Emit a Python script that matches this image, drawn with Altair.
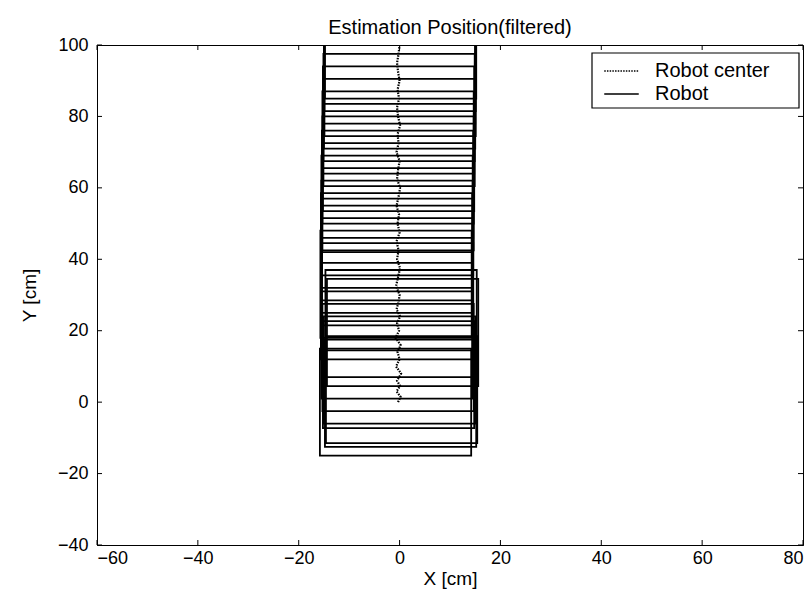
import altair as alt
import pandas as pd

# Robot pose estimates (filtered): centre of each robot footprint, cm
robot_cy = [0, 2.5, 3.5, 7.7, 9, 12.5, 16, 19.5, 22, 27, 29.5, 33, 36.5, 40, 43.5,
            47, 50.5, 54, 57.5, 61, 65, 68.5, 72, 75.5, 79, 82.5, 86, 89.5, 93, 96.5, 100]
robot_cx = [-0.8, 0.2, 0.4, -0.2, 0.0, -0.3, -0.5, 0.6, 0.3, -0.6, -0.4, -0.7, -0.5, -0.4, -0.6,
            -0.5, -0.4, -0.5, -0.3, -0.4, -0.3, -0.2, -0.3, -0.1, -0.2, -0.1, 0.0, 0.1, 0.0, 0.1, 0.2]
ROBOT_SIZE = 30  # square footprint, cm

# Trail of the robot centre
center_y = [0, 1.5, 3, 4.5, 6, 8, 10, 12, 14, 16, 18, 20, 22, 24, 26, 28, 30,
            32.5, 35, 37.5, 40, 42.5, 45, 47.5, 50, 52.5, 55, 57.5, 60, 62.5, 65,
            67.5, 70, 72.5, 75, 77.5, 80, 82.5, 85, 87.5, 90, 92.5, 95, 97.5, 100]
center_x = [-0.3, 0.2, -0.6, 0.1, -0.5, 0.3, -0.7, 0.0, -0.4, 0.2, -0.8, -0.1, -0.5, 0.1, -0.6,
            -0.2, 0.0, -0.7, -0.3, 0.1, -0.5, -0.2, -0.6, 0.0, -0.4, -0.1, -0.6, -0.2, 0.1, -0.5,
            -0.3, 0.0, -0.6, -0.2, -0.4, 0.1, -0.3, -0.5, -0.1, -0.4, 0.0, -0.3, -0.5, -0.2, 0.0]

x_ticks = [-60, -40, -20, 0, 20, 40, 60, 80]
y_ticks = [-40, -20, 0, 20, 40, 60, 80, 100]

FONT = "Liberation Sans"
W, H = 706, 500
half = ROBOT_SIZE / 2

robots = pd.DataFrame({"cx": robot_cx, "cy": robot_cy})
robots["x0"] = robots.cx - half
robots["x1"] = robots.cx + half
robots["y0"] = robots.cy - half
robots["y1"] = robots.cy + half
robots["series"] = "Robot"

trail = pd.DataFrame({"x": center_x, "y": center_y, "i": range(len(center_x))})
trail["series"] = "Robot center"

xs = alt.Scale(domain=[-60, 80], nice=False, zero=False)
ys = alt.Scale(domain=[-40, 100], nice=False, zero=False)

# legend sample: a horizontal segment wider than the symbol cell
SAMPLE_PATH = "M-1.5,0H1.5"

dash = alt.StrokeDash(
    "series:N",
    scale=alt.Scale(domain=["Robot center", "Robot"], range=[[1.5, 1.2], [1, 0]]),
    legend=alt.Legend(
        title=None, orient="none", legendX=512, legendY=13.5,
        symbolType=SAMPLE_PATH, symbolSize=529, symbolStrokeWidth=1.5,
        symbolStrokeColor="black", symbolFillColor="transparent",
        labelFont=FONT, labelFontSize=20,
        labelColor="black", padding=0, rowPadding=0, labelOffset=21,
    ),
)

xaxis = alt.Axis(values=x_ticks, title="X [cm]", grid=False, ticks=False,
                 labelFont=FONT, labelFontSize=18, labelColor="black",
                 titleFont=FONT, titleFontSize=19, titleFontWeight="normal",
                 titleColor="black", labelPadding=4, titlePadding=2,
                 domainColor="black")
yaxis = alt.Axis(values=y_ticks, title="Y [cm]", grid=False, ticks=False,
                 labelFont=FONT, labelFontSize=18, labelColor="black",
                 titleFont=FONT, titleFontSize=19, titleFontWeight="normal",
                 titleColor="black", labelPadding=9, titlePadding=18,
                 domainColor="black")

rects = alt.Chart(robots).mark_rect(
    filled=False, stroke="black", strokeWidth=1.8, clip=True
).encode(
    x=alt.X("x0:Q", scale=xs, axis=xaxis),
    x2="x1:Q",
    y=alt.Y("y0:Q", scale=ys, axis=yaxis),
    y2="y1:Q",
    strokeDash=dash,
)

path = alt.Chart(trail).mark_line(color="black", strokeWidth=2.2, clip=True).encode(
    x=alt.X("x:Q", scale=xs),
    y=alt.Y("y:Q", scale=ys),
    order="i:Q",
    strokeDash=dash,
)

# inward tick marks on all four sides
xt = pd.DataFrame({"v": x_ticks})
yt = pd.DataFrame({"v": y_ticks})
tick_style = dict(color="black", strokeWidth=1)
xt_bottom = alt.Chart(xt).mark_rule(**tick_style).encode(
    x=alt.X("v:Q", scale=xs), y=alt.value(H), y2=alt.value(H - 5))
xt_top = alt.Chart(xt).mark_rule(**tick_style).encode(
    x=alt.X("v:Q", scale=xs), y=alt.value(0), y2=alt.value(5))
yt_left = alt.Chart(yt).mark_rule(**tick_style).encode(
    y=alt.Y("v:Q", scale=ys), x=alt.value(0), x2=alt.value(5))
yt_right = alt.Chart(yt).mark_rule(**tick_style).encode(
    y=alt.Y("v:Q", scale=ys), x=alt.value(W), x2=alt.value(W - 5))

# white legend frame in the upper right corner
legend_frame = alt.Chart(pd.DataFrame({"k": [0]})).mark_rect(
    fill="white", stroke="black", strokeWidth=1.2
).encode(x=alt.value(495), x2=alt.value(702), y=alt.value(8), y2=alt.value(63))

chart = alt.layer(rects, path, xt_bottom, xt_top, yt_left, yt_right, legend_frame).properties(
    width=W, height=H,
    title=alt.Title("Estimation Position(filtered)", font=FONT, fontSize=20,
                    fontWeight="normal", color="black", offset=-2),
    padding={"left": 97, "top": 45, "right": 6, "bottom": 48},
    autosize=alt.AutoSizeParams(type="none"),
    background="white",
).configure_view(stroke="black", strokeWidth=1)

chart.save("out.html", embed_options={"renderer": "svg", "actions": False})
